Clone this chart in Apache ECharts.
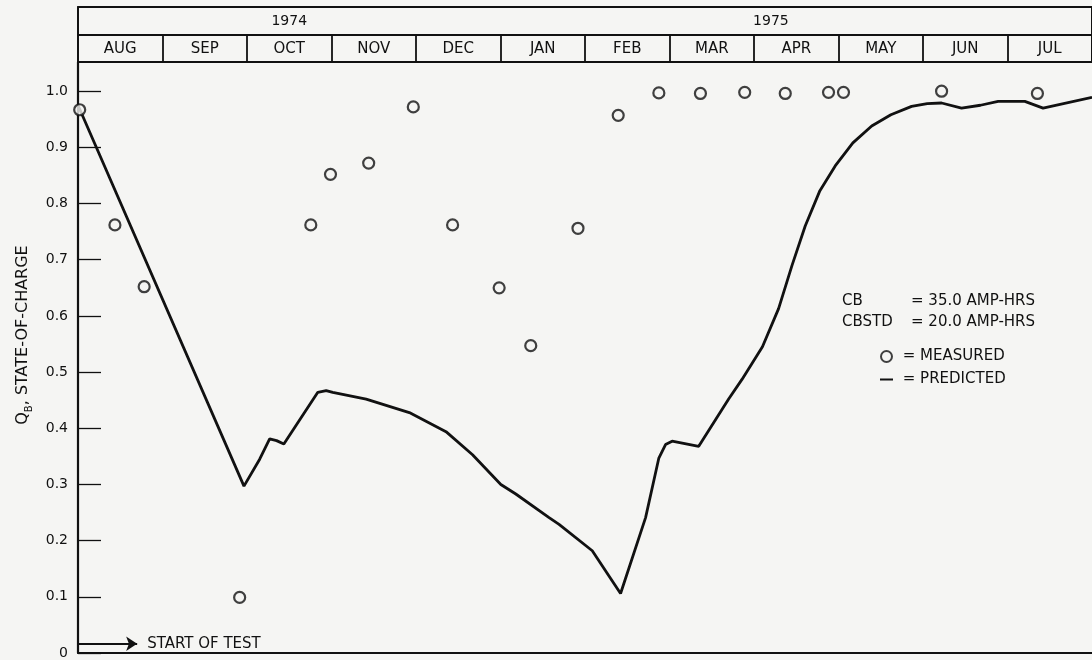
<!DOCTYPE html>
<html>
<head>
<meta charset="utf-8">
<style>
  html, body { margin: 0; padding: 0; background: #f5f5f3; }
  #chart { width: 1092px; height: 660px; }
</style>
<script src="https://cdn.jsdelivr.net/npm/echarts@6/dist/echarts.min.js"></script>
</head>
<body>
<div id="chart"></div>
<script>
// ---- data ----
const months = ['AUG', 'SEP', 'OCT', 'NOV', 'DEC', 'JAN', 'FEB', 'MAR', 'APR', 'MAY', 'JUN', 'JUL'];
const years = ['1974', '1975'];
const yearLabelMonth = [2.5, 8.2];       // month position where each year label is centred
const yearStartIndex = [0, 5];           // month index where each year begins
const yTicks = [0, 0.1, 0.2, 0.3, 0.4, 0.5, 0.6, 0.7, 0.8, 0.9, 1.0];
const yTickLabels = ['0', '0.1', '0.2', '0.3', '0.4', '0.5', '0.6', '0.7', '0.8', '0.9', '1.0'];

// measured state of charge (x = months since 1 Aug 1974)
const measuredMonth = [0.02, 0.437, 0.783, 1.913, 2.755, 2.988, 3.440, 3.968, 4.433, 4.984, 5.358,
  5.917, 6.393, 6.874, 7.366, 7.890, 8.370, 8.882, 9.059, 10.220, 11.354];
const measuredQ = [0.967, 0.762, 0.652, 0.099, 0.762, 0.852, 0.872, 0.972, 0.762, 0.650, 0.547,
  0.756, 0.957, 0.997, 0.996, 0.998, 0.996, 0.998, 0.998, 1.000, 0.996];

// predicted state of charge
const predictedMonth = [0.0, 1.964, 2.15, 2.268, 2.35, 2.436, 2.838, 2.937, 3.015, 3.410, 3.921,
  4.355, 4.669, 5.004, 5.181, 5.575, 5.693, 6.086, 6.421, 6.717, 6.874, 6.953, 7.031, 7.346,
  7.70, 7.858, 8.10, 8.291, 8.45, 8.606, 8.78, 8.961, 9.17, 9.393, 9.62, 9.865, 10.05, 10.220,
  10.456, 10.68, 10.889, 11.205, 11.421, 12.0];
const predictedQ = [0.975, 0.297, 0.345, 0.381, 0.378, 0.372, 0.464, 0.467, 0.464, 0.452, 0.428,
  0.394, 0.353, 0.300, 0.283, 0.241, 0.229, 0.182, 0.106, 0.241, 0.347, 0.371, 0.377, 0.368,
  0.452, 0.487, 0.545, 0.613, 0.690, 0.760, 0.823, 0.867, 0.908, 0.938, 0.958, 0.973, 0.978, 0.979,
  0.970, 0.975, 0.982, 0.982, 0.970, 0.989];

const startOfTest = { from: 0, to: 0.7, q: 0.0165, text: 'START OF TEST' };
const constants = [['CB', '= 35.0 AMP-HRS'], ['CBSTD', '= 20.0 AMP-HRS']];

// ---- chart ----
const FONT = 'DejaVu Sans';
const INK = '#111111';
const BG = '#f5f5f3';
const chart = echarts.init(document.getElementById('chart'), null, { renderer: 'canvas' });

const GRID_LEFT = 78, GRID_W = 1016;

const option = {
  backgroundColor: BG,
  animation: false,
  textStyle: { fontFamily: FONT, color: INK },
  title: {
    left: 842, top: 291, padding: 0,
    text: constants.map(r => '{a|' + r[0] + '}{b|' + r[1] + '}').join('\n'),
    textStyle: {
      fontFamily: FONT, fontSize: 15, fontWeight: 'normal', color: INK, lineHeight: 21,
      rich: {
        a: { width: 69, fontSize: 15, fontFamily: FONT, color: INK, lineHeight: 21 },
        b: { fontSize: 15, fontFamily: FONT, color: INK, lineHeight: 21 }
      }
    }
  },
  legend: {
    orient: 'vertical', left: 879, top: 349, padding: 0,
    itemWidth: 13, itemHeight: 11, itemGap: 8,
    formatter: ' = {name}',
    textStyle: { fontFamily: FONT, fontSize: 15, color: INK },
    data: [
      { name: 'MEASURED' },
      { name: 'PREDICTED', itemStyle: { color: 'rgba(0,0,0,0)', borderWidth: 0, opacity: 0 } }
    ]
  },
  grid: [
    { left: GRID_LEFT, top: 7, width: GRID_W, height: 28, show: true, borderColor: INK, borderWidth: 1.8, backgroundColor: 'transparent' },
    { left: GRID_LEFT, top: 35, width: GRID_W, height: 27, show: true, borderColor: INK, borderWidth: 1.8, backgroundColor: 'transparent' },
    { left: GRID_LEFT, top: 62, width: GRID_W, height: 594, show: false }
  ],
  xAxis: [
    { // year row dividers
      type: 'category', gridIndex: 0, data: months, boundaryGap: true,
      axisLine: { show: false }, axisTick: { show: false }, axisLabel: { show: false },
      splitLine: { show: true, interval: (i) => yearStartIndex.indexOf(i) > 0, lineStyle: { color: INK, width: 1.8 } }
    },
    { // year labels
      type: 'value', gridIndex: 0, min: 0, max: 12, position: 'top',
      axisLine: { show: false }, axisTick: { show: false }, splitLine: { show: false },
      axisLabel: {
        show: true, inside: true, margin: 14, verticalAlign: 'middle',
        customValues: yearLabelMonth,
        formatter: (v) => {
          const i = yearLabelMonth.findIndex(p => Math.abs(p - v) < 1e-6);
          return i >= 0 ? years[i] : '';
        },
        fontFamily: FONT, fontSize: 14, color: INK
      }
    },
    { // month row
      type: 'category', gridIndex: 1, data: months, boundaryGap: true, position: 'bottom',
      axisLine: { show: false }, axisTick: { show: false },
      axisLabel: { show: true, inside: true, margin: 13, verticalAlign: 'middle', interval: 0, fontFamily: FONT, fontSize: 15, color: INK },
      splitLine: { show: true, interval: 0, lineStyle: { color: INK, width: 1.8 } }
    },
    { // main plot x
      type: 'value', gridIndex: 2, min: 0, max: 12, position: 'bottom',
      axisLine: { show: true, lineStyle: { color: INK, width: 1.8 } },
      axisTick: { show: false }, axisLabel: { show: false }, splitLine: { show: false }
    }
  ],
  yAxis: [
    { type: 'value', gridIndex: 0, show: false },
    { type: 'value', gridIndex: 1, show: false },
    {
      type: 'value', gridIndex: 2, min: 0, max: 1.052,
      axisLine: { show: true, lineStyle: { color: INK, width: 2.2 } },
      axisTick: { show: true, inside: true, length: 23, customValues: yTicks, lineStyle: { color: INK, width: 1.3 } },
      axisLabel: {
        show: true, margin: 10, customValues: yTicks,
        formatter: (v) => {
          const i = yTicks.findIndex(t => Math.abs(t - v) < 1e-6);
          return i >= 0 ? yTickLabels[i] : '';
        },
        fontFamily: FONT, fontSize: 14, color: INK
      },
      splitLine: { show: false },
      name: 'Q{s|B}, STATE-OF-CHARGE',
      nameLocation: 'middle', nameRotate: 90, nameGap: 36,
      nameTextStyle: {
        fontFamily: FONT, fontSize: 16, color: INK, lineHeight: 24, padding: [0, 0, 0, 45],
        rich: { s: { fontSize: 10, fontFamily: FONT, color: INK, verticalAlign: 'bottom', lineHeight: 24 } }
      }
    }
  ],
  series: [
    {
      name: 'PREDICTED', type: 'line', xAxisIndex: 3, yAxisIndex: 2,
      data: predictedMonth.map((m, i) => [m, predictedQ[i]]),
      symbol: 'none', smooth: false,
      lineStyle: { color: INK, width: 2.8 },
      itemStyle: { color: INK },
      z: 2
    },
    {
      name: 'MEASURED', type: 'scatter', xAxisIndex: 3, yAxisIndex: 2,
      data: measuredMonth.map((m, i) => [m, measuredQ[i]]),
      symbol: 'circle', symbolSize: 11,
      itemStyle: { color: BG, borderColor: INK, borderWidth: 2.2 },
      z: 3,
      markLine: {
        silent: true, animation: false,
        symbol: ['none', 'arrow'], symbolSize: 11,
        lineStyle: { color: INK, width: 2, type: 'solid' },
        label: { show: true, position: 'end', distance: 10, formatter: startOfTest.text, fontFamily: FONT, fontSize: 15, color: INK },
        data: [[{ coord: [startOfTest.from, startOfTest.q] }, { coord: [startOfTest.to, startOfTest.q] }]]
      }
    }
  ]
};
chart.setOption(option);
</script>
</body>
</html>
